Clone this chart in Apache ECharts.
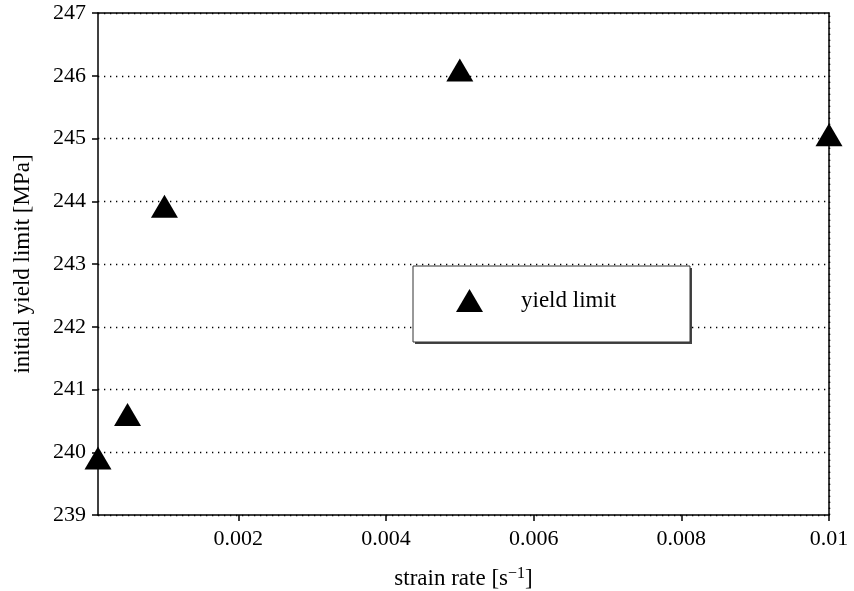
<!DOCTYPE html>
<html>
<head>
<meta charset="utf-8">
<script src="https://cdn.jsdelivr.net/npm/echarts@6/dist/echarts.min.js"></script>
<style>
html,body{margin:0;padding:0;background:#fff;}
#chart{width:854px;height:591px;}
</style>
</head>
<body>
<div id="chart"></div>
<script>
// Data
const strainRate = [0.0001, 0.0005, 0.001, 0.005, 0.01];
const yieldLimit = [239.91, 240.60, 243.92, 246.09, 245.06];
const xTicks = [0.002, 0.004, 0.006, 0.008, 0.01];
const xTickLabels = ['0.002', '0.004', '0.006', '0.008', '0.01'];
const seriesName = 'yield limit';

const FONT = 'Liberation Serif';
const chart = echarts.init(document.getElementById('chart'), null, {renderer: 'canvas'});

const gridLineStyle = {color: '#000', width: 1.3, type: [1.3, 4.7], opacity: 1};
const spine = {show: true, onZero: false, lineStyle: {color: '#000', width: 1.5}};

const option = {
  backgroundColor: '#fff',
  animation: false,
  grid: {left: 98, top: 13, right: 25, bottom: 76, show: false, containLabel: false, outerBoundsMode: 'none'},
  xAxis: [{
    type: 'value',
    min: strainRate[0],
    max: 0.01,
    name: 'strain rate [s{sup|\u22121}]',
    nameLocation: 'middle',
    nameGap: 51,
    nameTextStyle: {
      fontFamily: FONT, fontSize: 23, color: '#000',
      rich: {sup: {fontFamily: FONT, fontSize: 16, color: '#000', verticalAlign: 'top', padding: [0, 0, 10, 0]}}
    },
    axisLine: spine,
    axisTick: {show: true, inside: false, length: 6, lineStyle: {color: '#000', width: 1.5}, customValues: xTicks},
    axisLabel: {
      show: true, margin: 13, fontFamily: FONT, fontSize: 22, color: '#000',
      customValues: xTicks,
      formatter: function (v) {
        const i = xTicks.findIndex(t => Math.abs(t - v) < 1e-9);
        return i >= 0 ? xTickLabels[i] : '';
      }
    },
    splitLine: {show: false}
  }, {
    type: 'value', position: 'top', min: strainRate[0], max: 0.01,
    axisLine: spine, axisTick: {show: false}, axisLabel: {show: false}, splitLine: {show: false}
  }],
  yAxis: [{
    type: 'value',
    min: 239,
    max: 247,
    interval: 1,
    name: 'initial yield limit [MPa]',
    nameLocation: 'middle',
    nameGap: 64,
    nameRotate: 90,
    nameTextStyle: {fontFamily: FONT, fontSize: 23, color: '#000'},
    axisLine: spine,
    axisTick: {show: true, inside: false, length: 6, lineStyle: {color: '#000', width: 1.5}},
    axisLabel: {show: true, margin: 12, fontFamily: FONT, fontSize: 22, color: '#000'},
    splitLine: {show: true, lineStyle: gridLineStyle}
  }, {
    type: 'value', position: 'right', min: 239, max: 247, interval: 1,
    axisLine: spine, axisTick: {show: false}, axisLabel: {show: false}, splitLine: {show: false}
  }],
  legend: {
    show: true,
    left: 456,
    top: 289,
    z: 10,
    padding: 0,
    itemWidth: 27,
    itemHeight: 23,
    icon: 'triangle',
    data: [{name: seriesName, icon: 'triangle', itemStyle: {color: '#000', opacity: 1}}],
    textStyle: {fontFamily: FONT, fontSize: 23, color: '#000', padding: [0, 0, 0, 33]}
  },
  graphic: [
    {type: 'rect', z: 8, shape: {x: 415, y: 268, width: 277, height: 76}, style: {fill: '#444', stroke: null}, silent: true},
    {type: 'rect', z: 9, shape: {x: 413, y: 266, width: 277, height: 76}, style: {fill: '#fff', stroke: '#333', lineWidth: 1}, silent: true}
  ],
  series: [{
    name: seriesName,
    type: 'scatter',
    symbol: 'triangle',
    symbolSize: [27, 23],
    itemStyle: {color: '#000', opacity: 1},
    z: 6,
    clip: false,
    data: strainRate.map((x, i) => [x, yieldLimit[i]]),
    markLine: {
      silent: true,
      symbol: 'none',
      label: {show: false},
      lineStyle: gridLineStyle,
      z: 1,
      data: xTicks.slice(0, 4).map(v => ({xAxis: v}))
    }
  }]
};
chart.setOption(option);
</script>
</body>
</html>
